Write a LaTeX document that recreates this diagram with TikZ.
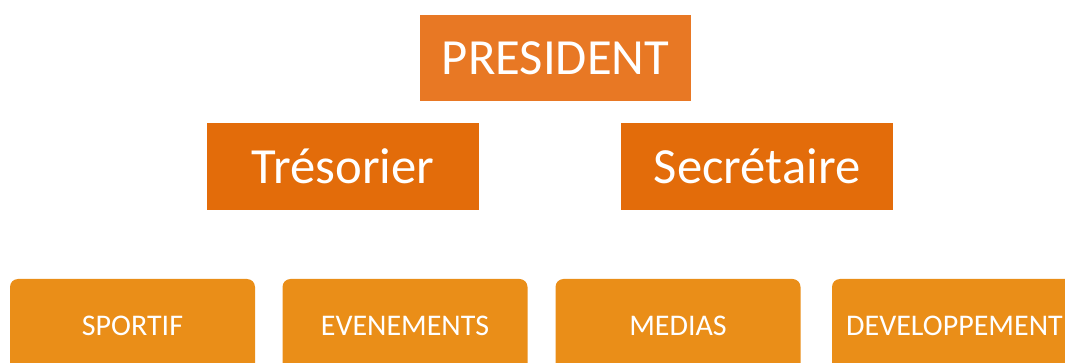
\documentclass[tikz,border=0pt]{standalone}
\usepackage{fontspec}
\setmainfont{Carlito}
\definecolor{presorange}{RGB}{232, 120, 36}
\definecolor{bureauorange}{RGB}{227, 108, 10}
\definecolor{poleorange}{RGB}{234, 142, 24}
\usetikzlibrary{positioning}

\begin{document}
\begin{tikzpicture}[x=0.75pt, y=-0.75pt,
    headbox/.style={fill=#1, text=white, inner sep=0pt, minimum width=203.5pt, minimum height=65pt, font=\fontsize{38}{40}\selectfont},
    polebox/.style={fill=poleorange, text=white, rounded corners=6pt, inner sep=0pt, minimum width=183.75pt, minimum height=70.5pt, font=\fontsize{22.5}{24}\selectfont}]
  \clip (0, 0) rectangle (1065, 363);

  % Bureau
  \node[headbox=presorange] (president) at (555.5, 58) {PRESIDENT};
  \node[headbox=bureauorange] (tresorier) at (343, 166.5) {Trésorier};
  \node[headbox=bureauorange] (secretaire) at (757, 166.5) {Secrétaire};

  % Poles
  \node[polebox] (sportif) at (132.5, 326) {SPORTIF};
  \node[polebox] (evenements) at (405, 326) {EVENEMENTS};
  \node[polebox] (medias) at (678, 326) {MEDIAS};
  \node[polebox] (developpement) at (954.5, 326) {DEVELOPPEMENT};
\end{tikzpicture}
\end{document}
